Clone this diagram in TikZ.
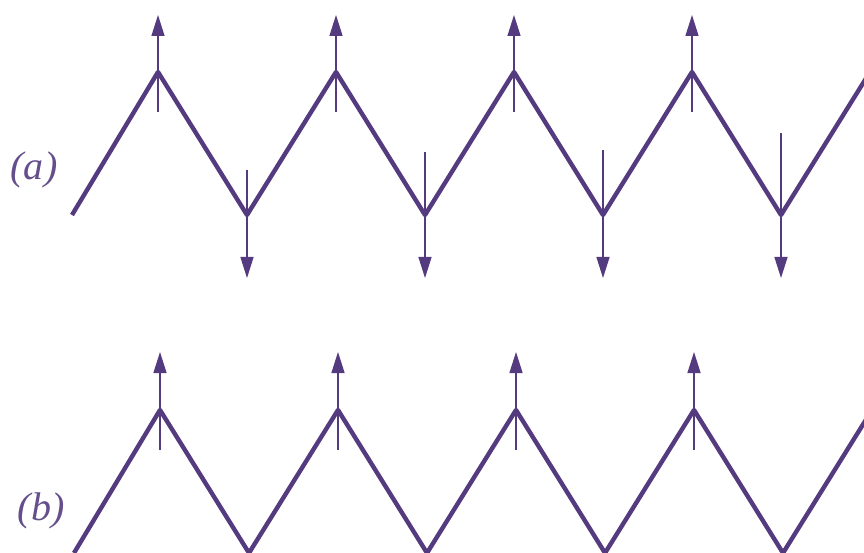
\documentclass[tikz,border=0pt]{standalone}
\usepackage{fontspec}
\setmainfont{Liberation Serif}
\usetikzlibrary{arrows.meta}
\definecolor{zz}{RGB}{84,58,126}
\definecolor{lz}{RGB}{100,78,140}
\tikzset{
  zig/.style={draw=zz, line width=4.4pt, line join=round, line cap=butt},
  vec/.style={draw=zz, line width=1.4pt, -{Triangle[length=21pt,width=13pt]}},
  lab/.style={text=lz, font=\itshape\fontsize{40}{40}\selectfont, inner sep=0pt}
}
\begin{document}
\begin{tikzpicture}[x=1pt,y=-1pt]
\useasboundingbox (0,0) rectangle (864,553);
\clip (0,0) rectangle (864,553);
% (a) zigzag
\coordinate (a0) at (72,215);
\coordinate (p1) at (158,72);
\coordinate (v1) at (247,215);
\coordinate (p2) at (336,72);
\coordinate (v2) at (425,215);
\coordinate (p3) at (514,72);
\coordinate (v3) at (603,215);
\coordinate (p4) at (692,72);
\coordinate (v4) at (781,215);
\coordinate (a9) at (870,72);
\draw[zig] (a0) -- (p1) -- (v1) -- (p2) -- (v2) -- (p3) -- (v3) -- (p4) -- (v4) -- (a9);
% up arrows (a)
\foreach \i in {1,2,3,4}{
  \path (p\i) ++(0,40) coordinate (pb\i);
  \path (p\i) ++(0,-57) coordinate (pt\i);
  \draw[vec] (pb\i) -- (pt\i);
}
% down arrows (a)
\coordinate (vt1) at (247,170);
\coordinate (vt2) at (425,152);
\coordinate (vt3) at (603,150);
\coordinate (vt4) at (781,133);
\foreach \i in {1,2,3,4}{
  \path (v\i) ++(0,63) coordinate (vb\i);
  \draw[vec] (vt\i) -- (vb\i);
}
\node[lab] (la) at (34,170) {(a)};
% (b) zigzag
\coordinate (b0) at (74,553);
\coordinate (q1) at (160,410);
\coordinate (w1) at (249,553);
\coordinate (q2) at (338,410);
\coordinate (w2) at (427,553);
\coordinate (q3) at (516,410);
\coordinate (w3) at (605,553);
\coordinate (q4) at (694,410);
\coordinate (w4) at (783,553);
\coordinate (b9) at (872,410);
\draw[zig] (b0) -- (q1) -- (w1) -- (q2) -- (w2) -- (q3) -- (w3) -- (q4) -- (w4) -- (b9);
\foreach \i in {1,2,3,4}{
  \path (q\i) ++(0,40) coordinate (qb\i);
  \path (q\i) ++(0,-58) coordinate (qt\i);
  \draw[vec] (qb\i) -- (qt\i);
}
\node[lab] (lb) at (41,511) {(b)};
\end{tikzpicture}
\end{document}
